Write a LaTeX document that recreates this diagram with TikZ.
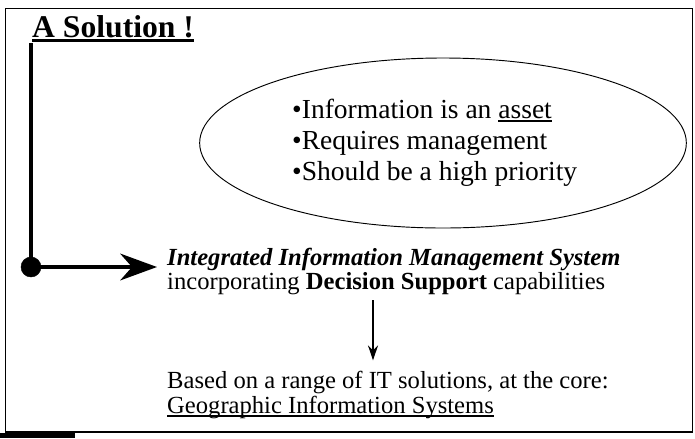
\documentclass[tikz,border=0pt]{standalone}
\usepackage{fontspec}
\setmainfont{Liberation Serif}
\usetikzlibrary{arrows.meta,shapes.geometric}
\newcommand\undl[3]{\leavevmode\setbox0=\hbox{#3}\rlap{\rule[-#2]{\wd0}{#1}}\box0}
\begin{document}
\begin{tikzpicture}[x = 0.03cm, y = -0.03cm, draw = black,
  line/.style = {anchor = base west, inner sep = 0pt, font = \fontsize{21}{22}\selectfont},
  point/.style = {anchor = base west, inner sep = 0pt, font = \fontsize{23.5}{26}\selectfont},
  bubble/.style = {draw, ellipse, line width = 0.8pt, inner sep = 0pt, minimum width = 14.6cm, minimum height = 5.1cm}]
\useasboundingbox (0,0) rectangle (695,438);
\draw[line width = 0.6pt] (5,8) rectangle (692,432);
\draw[line width = 1.6pt] (5,432) -- (692,432);
\fill (0,433) rectangle (75,438);
\node[anchor = base west, inner sep = 0pt, font = \fontsize{27}{30}\selectfont\bfseries] (title) at (32,37) {\undl{2pt}{4pt}{A Solution !}};
\coordinate (top) at (31,43);
\coordinate (dot) at (31,267);
\node[bubble] (bubble) at (443,143) {};
\node[point] (asset) at (292,118) {\textbullet Information is an \undl{1pt}{3pt}{asset}};
\node[point] (manage) at (292,149) {\textbullet Requires management};
\node[point] (priority) at (292,180) {\textbullet Should be a high priority};
\node[line, font = \fontsize{21}{22}\selectfont\bfseries\itshape] (integ) at (167,265) {Integrated Information Management System};
\node[line] (incorp) at (167,289) {incorporating \textbf{Decision Support} capabilities};
\node[line] (based) at (167,388) {Based on a range of IT solutions, at the core:};
\node[line] (gis) at (167,413) {\undl{1.2pt}{3pt}{Geographic Information Systems}};
\draw[line width = 3.5pt] (top) -- (dot);
\filldraw (dot) circle (0.3cm);
\draw[line width = 3.5pt, -{Stealth[length = 1.1cm, width = 0.8cm, inset = 0.35cm]}, shorten > = 0.3cm] (dot) -- (dot -| integ.west);
\coordinate (down) at (373,300);
\draw[line width = 1.2pt, -{Stealth[length = 0.45cm, width = 0.3cm]}, shorten > = 0.3cm] (down) -- (down |- based.north);
\end{tikzpicture}
\end{document}
